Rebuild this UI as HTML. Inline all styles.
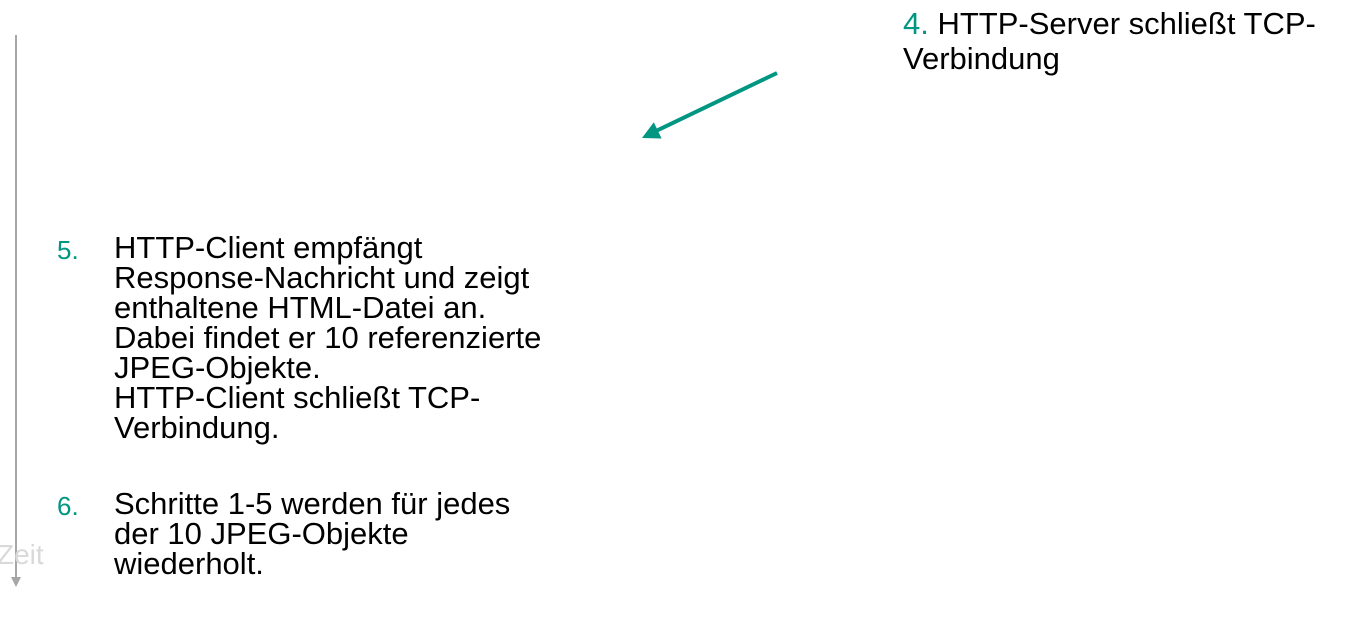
<!DOCTYPE html>
<html><head><meta charset="utf-8"><style>
body{margin:0;width:1364px;height:632px;background:#fff;position:relative;overflow:hidden;font-family:"Liberation Sans",Arial,sans-serif;color:#000}
.t{position:absolute;font-size:31px;line-height:30px;white-space:nowrap}
.n{position:absolute;font-size:26px;line-height:30px;color:#009682}
</style></head><body>
<svg width="1364" height="632" style="position:absolute;left:0;top:0">
<line x1="16" y1="35" x2="16" y2="578" stroke="#a6a6a6" stroke-width="2"/>
<polygon points="11,577 21,577 16,587" fill="#a6a6a6"/>
<line x1="777" y1="73" x2="656" y2="131" stroke="#009682" stroke-width="4"/>
<polygon points="642,138 661.6,138.5 653.8,122.3" fill="#009682"/>
</svg>
<div style="position:absolute;left:-3px;top:539px;font-size:28px;color:#d9d9d9">Zeit</div>
<div class="t" style="left:903px;top:6px;line-height:35px"><span style="color:#009682">4.</span> HTTP-Server schließt TCP-<br>Verbindung</div>
<div class="n" style="left:57px;top:235px">5.</div>
<div class="t" style="left:114px;top:233px">HTTP-Client empfängt<br>Response-Nachricht und zeigt<br>enthaltene HTML-Datei an.<br>Dabei findet er 10 referenzierte<br>JPEG-Objekte.<br>HTTP-Client schließt TCP-<br>Verbindung.</div>
<div class="n" style="left:57px;top:491px">6.</div>
<div class="t" style="left:114px;top:489px">Schritte 1-5 werden für jedes<br>der 10 JPEG-Objekte<br>wiederholt.</div>
</body></html>
